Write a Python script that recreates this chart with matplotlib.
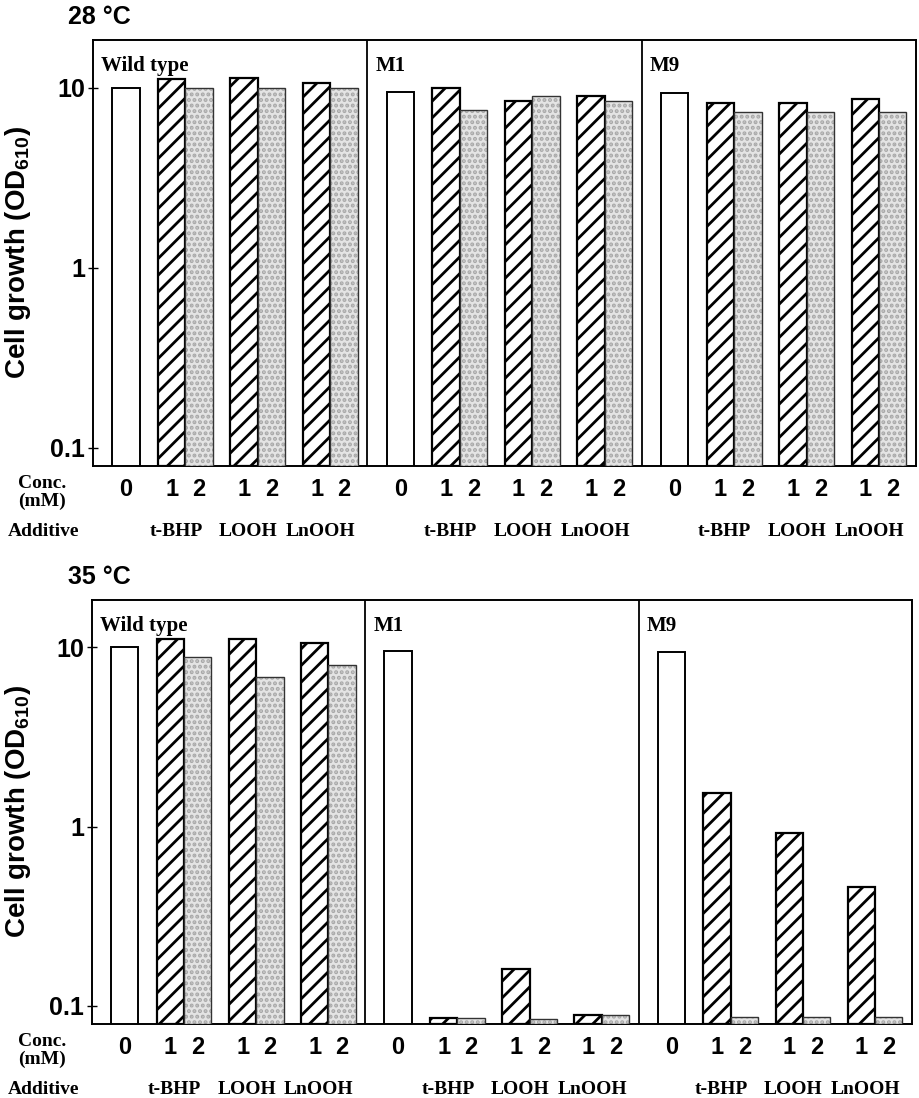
import matplotlib
matplotlib.use('Agg')
import matplotlib.pyplot as plt
from matplotlib.transforms import blended_transform_factory

# ---------------- data ----------------
temperatures = ['28 °C', '35 °C']
strains = ['Wild type', 'M1', 'M9']
additives = ['t-BHP', 'LOOH', 'LnOOH']
conc_labels = ['0', '1', '2', '1', '2', '1', '2']
# order within a strain: control (0), t-BHP 1, 2, LOOH 1, 2, LnOOH 1, 2 (mM)
growth_28_wt = [10.0, 11.2, 10.0, 11.3, 10.0, 10.6, 10.0]
growth_28_m1 = [9.5, 10.0, 7.5, 8.4, 9.0, 9.0, 8.4]
growth_28_m9 = [9.3, 8.2, 7.3, 8.2, 7.3, 8.7, 7.3]
growth_35_wt = [10.0, 11.2, 8.9, 11.2, 6.8, 10.6, 8.0]
growth_35_m1 = [9.5, 0.085, 0.085, 0.16, 0.084, 0.089, 0.089]
growth_35_m9 = [9.4, 1.55, 0.087, 0.92, 0.087, 0.46, 0.087]
panels = [[growth_28_wt, growth_28_m1, growth_28_m9],
          [growth_35_wt, growth_35_m1, growth_35_m9]]
y_ticks = [0.1, 1, 10]
y_ticklabels = ['0.1', '1', '10']

# ---------------- style ----------------
plt.rcParams['font.family'] = ['Liberation Sans', 'DejaVu Sans']
plt.rcParams['mathtext.fontset'] = 'custom'
plt.rcParams['mathtext.rm'] = 'Liberation Sans:bold'
plt.rcParams['mathtext.it'] = 'Liberation Sans:bold'
plt.rcParams['hatch.linewidth'] = 2.0
SERIF = ['Liberation Serif', 'DejaVu Serif']

W, H = 919, 1098
fig = plt.figure(figsize=(W / 100, H / 100), dpi=100)

# axes rectangles in pixels: left, top, right, bottom
rects = [(93, 40, 916, 466), (92, 600, 912, 1024)]
YLIM = (0.0792, 18.4)
BLOCK = 10.0
CTRL_POS = 1.2
PAIR_START = 2.87
PAIR_STEP = 2.64


def positions():
    pos = [CTRL_POS]
    for k in range(len(additives)):
        pos += [PAIR_START + PAIR_STEP * k, PAIR_START + PAIR_STEP * k + 1.0]
    return pos


for p, (temp, rect) in enumerate(zip(temperatures, rects)):
    l, t, r, b = rect
    ax = fig.add_axes([l / W, 1 - b / H, (r - l) / W, (b - t) / H])
    ax.set_yscale('log')
    ax.set_ylim(*YLIM)
    ax.set_xlim(0, BLOCK * len(strains))
    hpx = b - t
    trans = blended_transform_factory(ax.transData, ax.transAxes)

    pos = positions()
    for s, (strain, vals) in enumerate(zip(strains, panels[p])):
        x0 = BLOCK * s
        for i, (xx, v) in enumerate(zip(pos, vals)):
            x = x0 + xx
            if i == 0:
                ax.bar(x, v - YLIM[0], bottom=YLIM[0], width=1.0, color='white',
                       edgecolor='black', linewidth=1.4, zorder=3)
            elif i % 2 == 1:
                ax.bar(x, v - YLIM[0], bottom=YLIM[0], width=1.0, color='white',
                       edgecolor='black', hatch='//', linewidth=1.6, zorder=3)
            else:
                ax.bar(x, v - YLIM[0], bottom=YLIM[0], width=1.0, color='#e4e4e4',
                       edgecolor='#a8a8a8', hatch='...', linewidth=0, zorder=3)
                ax.bar(x, v - YLIM[0], bottom=YLIM[0], width=1.0, color='none',
                       edgecolor='#333333', linewidth=1.0, zorder=4)
        if s > 0:
            ax.axvline(x0, color='black', linewidth=1.3, zorder=5)
        ax.text(x0 + 0.3, 1 - 26 / hpx, strain, transform=trans,
                ha='left', va='center', fontsize=15, fontweight='bold', family=SERIF)

        for xx, lab in zip(pos, conc_labels):
            ax.text(x0 + xx, -24 / hpx, lab, transform=trans, ha='center', va='center',
                    fontsize=17, fontweight='bold')
        for k, add in enumerate(additives):
            cx = x0 + PAIR_START + PAIR_STEP * k + 0.5 - 0.35
            ax.text(cx, -66 / hpx, add, transform=trans, ha='center', va='center',
                    fontsize=14, fontweight='bold', family=SERIF)

    ax.set_yticks(y_ticks)
    ax.set_yticklabels(y_ticklabels, fontweight='bold')
    ax.yaxis.set_minor_locator(matplotlib.ticker.NullLocator())
    ax.tick_params(axis='y', which='major', direction='inout', length=7, width=1.0,
                   labelsize=18, pad=2)
    ax.tick_params(axis='x', bottom=False, labelbottom=False)
    for sp in ax.spines.values():
        sp.set_linewidth(1.4)

    ax.set_ylabel('Cell growth (OD$_{610}$)', fontsize=20, fontweight='bold')
    ax.yaxis.set_label_coords(-(l - 33) / (r - l), 0.5)

    # left-side row labels
    ax.text(-(l - 42) / (r - l), -17 / hpx, 'Conc.', transform=ax.transAxes, ha='center', va='center',
            fontsize=14, fontweight='bold', family=SERIF)
    ax.text(-(l - 42) / (r - l), -35 / hpx, '(mM)', transform=ax.transAxes, ha='center', va='center',
            fontsize=14, fontweight='bold', family=SERIF)
    ax.text(-(l - 44) / (r - l), -66 / hpx, 'Additive', transform=ax.transAxes, ha='center', va='center',
            fontsize=14, fontweight='bold', family=SERIF)

    ax.text(-(l - 68) / (r - l), 1 + 23 / hpx, temp, transform=ax.transAxes, ha='left', va='center',
            fontsize=18, fontweight='bold')

fig.savefig('out.png', dpi=100)
